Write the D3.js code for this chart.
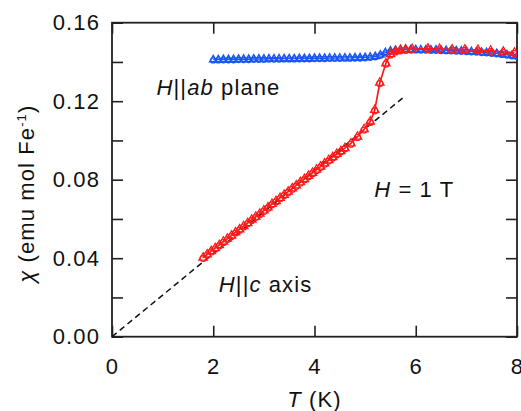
<!DOCTYPE html>
<html>
<head>
<meta charset="utf-8">
<script src="https://cdn.jsdelivr.net/npm/d3@7"></script>
<style>
  body { margin: 0; background: #fff; }
  text { font-family: "Liberation Sans", Arial, sans-serif; fill: #111; }
</style>
</head>
<body>
<div class="chart"></div>
<script>
// H || c axis (red)
const cT = [1.80, 1.88, 1.96, 2.04, 2.12, 2.20, 2.28, 2.36, 2.44, 2.52, 2.60, 2.68, 2.76, 2.84, 2.92,
    3.00, 3.08, 3.16, 3.24, 3.32, 3.40, 3.48, 3.56, 3.64, 3.72, 3.80, 3.88, 3.96, 4.04, 4.12,
    4.20, 4.28, 4.36, 4.44, 4.52, 4.60, 4.72, 4.85, 4.98, 5.10, 5.19, 5.29, 5.41, 5.50, 5.60,
    5.70, 5.80, 5.93, 6.24, 6.47, 6.72, 6.97, 7.23, 7.48, 7.73, 7.95];
const cChi = [0.0403, 0.0419, 0.0436, 0.0451, 0.0467, 0.0484, 0.0499, 0.0515, 0.0532, 0.0547, 0.0563, 0.0579, 0.0596, 0.0611, 0.0627,
    0.0643, 0.0659, 0.0676, 0.0691, 0.0707, 0.0723, 0.0739, 0.0756, 0.0771, 0.0787, 0.0803, 0.0819, 0.0835, 0.0851, 0.0867,
    0.0883, 0.0899, 0.0915, 0.0931, 0.0946, 0.0961, 0.0985, 0.1019, 0.1057, 0.1096, 0.1155, 0.1294, 0.1393, 0.1440, 0.1455,
    0.1461, 0.1464, 0.1466, 0.1468, 0.1466, 0.1464, 0.1463, 0.1461, 0.1457, 0.1452, 0.1447];

// H || ab plane (blue)
const abT = [2.0, 2.1, 2.2, 2.3, 2.4, 2.5, 2.6, 2.7, 2.8, 2.9, 3.0, 3.1, 3.2, 3.3, 3.4, 3.5, 3.6, 3.7, 3.8, 3.9,
    4.0, 4.1, 4.2, 4.3, 4.4, 4.5, 4.6, 4.7, 4.8, 4.9, 5.0, 5.1, 5.2, 5.3, 5.4, 5.5, 5.6, 5.7, 5.8, 5.9,
    6.0, 6.1, 6.2, 6.3, 6.4, 6.5, 6.6, 6.7, 6.8, 6.9, 7.0, 7.1, 7.2, 7.3, 7.4, 7.5, 7.6, 7.7, 7.8, 7.9, 8.0];
const abChi = [0.1412, 0.1412, 0.1413, 0.1413, 0.1413, 0.1414, 0.1414, 0.1414, 0.1415, 0.1415,
    0.1415, 0.1416, 0.1416, 0.1416, 0.1417, 0.1417, 0.1417, 0.1418, 0.1418, 0.1418,
    0.1419, 0.1419, 0.1419, 0.1420, 0.1420, 0.1420, 0.1421, 0.1421, 0.1422, 0.1422,
    0.1423, 0.1425, 0.1428, 0.1436, 0.1448, 0.1456, 0.1460, 0.1462, 0.1463, 0.1463,
    0.1463, 0.1462, 0.1462, 0.1461, 0.1461, 0.1460, 0.1459, 0.1458, 0.1457, 0.1456,
    0.1455, 0.1453, 0.1452, 0.1450, 0.1448, 0.1446, 0.1443, 0.1440, 0.1437, 0.1433, 0.1429];

// dashed guide through origin
const fitT = [0, 5.75];
const fitChi = [0, 0.1218];

const xTicks = [0, 2, 4, 6, 8];
const yTicks = [0, 0.02, 0.04, 0.06, 0.08, 0.10, 0.12, 0.14, 0.16];
const yLabels = [0, 0.04, 0.08, 0.12, 0.16];

const W = 521, H = 411;
const margin = { top: 22.7, right: 4, bottom: 74.3, left: 112 },
    width = W - margin.left - margin.right,
    height = H - margin.top - margin.bottom;

const red = "#ff1a1a", blue = "#1a55f5";

const svg = d3.select(".chart").append("svg")
    .attr("width", W).attr("height", H)
    .append("g")
    .attr("transform", "translate(" + margin.left + "," + margin.top + ")");

const x = d3.scaleLinear().domain([0, 8]).range([0, width]);
const y = d3.scaleLinear().domain([0, 0.16]).range([height, 0]);

svg.append("defs").append("clipPath").attr("id", "clip")
    .append("rect").attr("width", width).attr("height", height);

const tl = 11;
// axes with inward ticks on all sides
svg.append("g").attr("class", "axis").attr("transform", "translate(0," + height + ")")
    .call(d3.axisBottom(x).tickValues(xTicks).tickSize(-tl).tickPadding(22).tickFormat(d3.format("d")));
svg.append("g").attr("class", "axis")
    .call(d3.axisTop(x).tickValues(xTicks).tickSize(-tl).tickFormat(""));
svg.append("g").attr("class", "axis")
    .call(d3.axisLeft(y).tickValues(yTicks).tickSize(-tl).tickPadding(12)
        .tickFormat(d => yLabels.some(v => Math.abs(v - d) < 1e-9) ? d3.format(".2f")(d) : ""));
svg.append("g").attr("class", "axis").attr("transform", "translate(" + width + ",0)")
    .call(d3.axisRight(y).tickValues(yTicks).tickSize(-tl).tickFormat(""));

svg.selectAll(".axis .domain").remove();
svg.selectAll(".axis line").attr("stroke", "#222").attr("stroke-width", 1.6);
svg.selectAll(".axis text").attr("font-size", 22).attr("letter-spacing", 1.1)
    .attr("font-family", "Liberation Sans, Arial, sans-serif").attr("fill", "#111");

svg.append("rect").attr("width", width).attr("height", height)
    .attr("fill", "none").attr("stroke", "#222").attr("stroke-width", 1.8);

const plot = svg.append("g").attr("clip-path", "url(#clip)");

// dashed line
plot.append("path")
    .attr("d", d3.line().x((d, i) => x(fitT[i])).y(d => y(d))(fitChi))
    .attr("fill", "none").attr("stroke", "#111").attr("stroke-width", 1.5)
    .attr("stroke-dasharray", "6,4");

const tri = d3.symbol().type(d3.symbolTriangle);

function series(T, chi, color, rC, triSize, lw, mw) {
    const pts = T.map((t, i) => ({ t: t, c: chi[i] }));
    plot.append("path")
        .attr("d", d3.line().x(d => x(d.t)).y(d => y(d.c))(pts))
        .attr("fill", "none").attr("stroke", color).attr("stroke-width", lw);
    plot.selectAll(null).data(pts).enter().append("circle")
        .attr("cx", d => x(d.t)).attr("cy", d => y(d.c) + 0.8).attr("r", rC)
        .attr("fill", "none").attr("stroke", color).attr("stroke-width", mw);
    plot.selectAll(null).data(pts).enter().append("path")
        .attr("d", tri.size(triSize)())
        .attr("transform", d => "translate(" + x(d.t) + "," + y(d.c) + ")")
        .attr("fill", "none").attr("stroke", color).attr("stroke-width", mw);
}

series(abT, abChi, blue, 2.5, 24, 1.4, 1.4);
series(cT, cChi, red, 3, 32, 1.7, 1.2);

// annotations
function label(xp, yp, parts) {
    const t = svg.append("text").attr("x", xp).attr("y", yp)
        .attr("font-size", 22).attr("letter-spacing", 1.1);
    parts.forEach(p => t.append("tspan").attr("font-style", p[1] ? "italic" : "normal").text(p[0]));
    return t;
}
label(x(0.88), y(0.1218) - 3, [["H", 1], ["||", 0], ["ab", 1], [" plane", 0]]);
label(x(5.18), y(0.0704) - 1.5, [["H", 1], [" = 1 T", 0]]);
label(x(2.11), y(0.0235) + 1.5, [["H", 1], ["||", 0], ["c", 1], [" axis", 0]]);

// axis titles
const xt = svg.append("text").attr("x", width / 2).attr("y", height + 70)
    .attr("text-anchor", "middle").attr("font-size", 22).attr("letter-spacing", 1.1);
xt.append("tspan").attr("font-style", "italic").text("T");
xt.append("tspan").text(" (K)");

const yt = svg.append("text")
    .attr("transform", "translate(" + (-78) + "," + (height / 2 + 14) + ") rotate(-90)")
    .attr("text-anchor", "middle").attr("font-size", 22).attr("letter-spacing", 1.1);
yt.append("tspan").attr("font-style", "italic").text("χ");
yt.append("tspan").text(" (emu mol Fe");
yt.append("tspan").attr("font-size", 13).attr("dy", -8).text("-1");
yt.append("tspan").attr("dy", 8).text(")");
</script>
</body>
</html>
